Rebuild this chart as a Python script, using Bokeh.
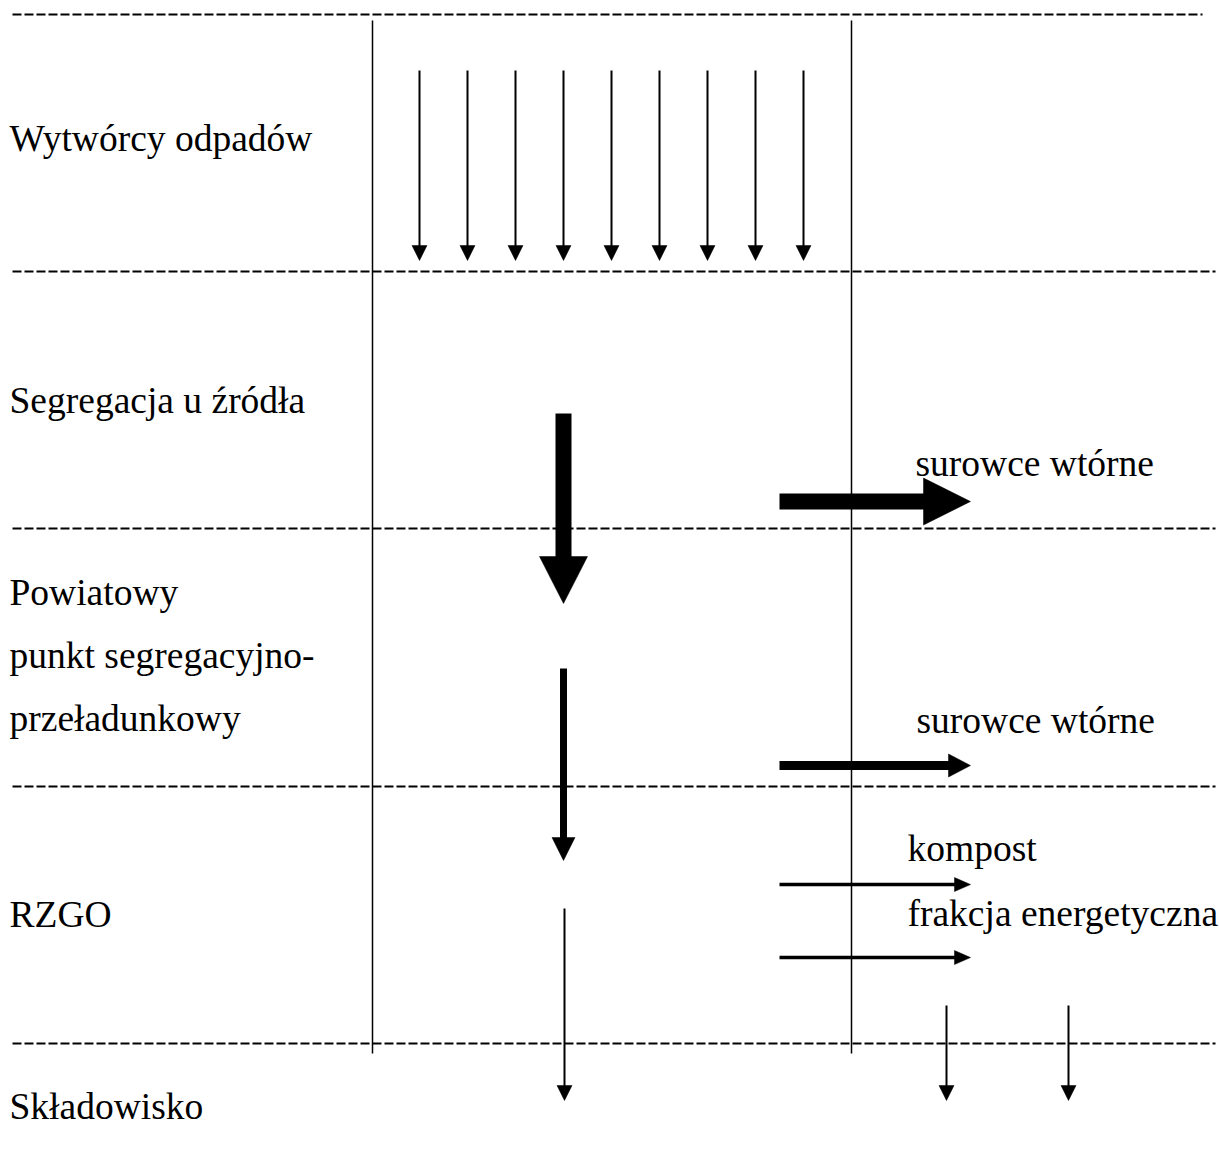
from bokeh.plotting import figure
from bokeh.models import Range1d
from bokeh.core.properties import value
from bokeh.embed import file_html
from bokeh.resources import INLINE

# ---- diagram data (page pixel coordinates, y grows downward) ----
# stage labels on the left
stage_labels = ["Wytwórcy odpadów", "Segregacja u źródła", "Powiatowy",
                "punkt segregacyjno-", "przeładunkowy", "RZGO", "Składowisko"]
stage_x = [9, 9, 9, 9, 9, 9, 9]
stage_baseline = [138, 400, 592, 655, 718, 914, 1106]

# product labels on the right
product_labels = ["surowce wtórne", "surowce wtórne", "kompost", "frakcja energetyczna"]
product_x = [915, 916, 907, 907]
product_baseline = [463, 720, 848, 913]

# dashed stage separators
sep_y = [14, 271, 528, 786, 1043]
sep_x0 = [12, 12, 12, 12, 12]
sep_x1 = [1202, 1215, 1215, 1215, 1215]

# vertical column dividers
col_x = [372, 851]
col_y0 = [20, 20]
col_y1 = [1053, 1053]

# downward arrows: x, start y, tip y, shaft width, head length, head width
down_x = [419, 467, 515, 563, 611, 659, 707, 755, 803, 563, 563, 564, 946, 1068]
down_y0 = [70, 70, 70, 70, 70, 70, 70, 70, 70, 413, 668, 908, 1005, 1005]
down_y1 = [260, 260, 260, 260, 260, 260, 260, 260, 260, 603, 860, 1100, 1100, 1100]
down_w = [2, 2, 2, 2, 2, 2, 2, 2, 2, 16, 7, 2, 2, 2]
down_hl = [15, 15, 15, 15, 15, 15, 15, 15, 15, 47, 23, 15, 15, 15]
down_hw = [15, 15, 15, 15, 15, 15, 15, 15, 15, 48, 23, 15, 15, 15]

# rightward arrows: y, start x, tip x, shaft width, head length, head width
right_y = [501, 765, 884, 957]
right_x0 = [779, 779, 779, 779]
right_x1 = [970, 970, 970, 970]
right_w = [16, 9, 3.5, 3.5]
right_hl = [47, 22, 16, 16]
right_hw = [47, 23, 14, 14]

# ---- figure ----
p = figure(width=1219, height=1172, x_range=Range1d(0, 1219), y_range=Range1d(1172, 0),
           output_backend="svg", toolbar_location=None,
           x_axis_location=None, y_axis_location=None, min_border=0)
p.grid.visible = False
p.outline_line_color = None
p.background_fill_color = "white"
p.border_fill_color = "white"

# separators
p.segment(x0=sep_x0, y0=sep_y, x1=sep_x1, y1=sep_y, line_color="black",
          line_width=2, line_dash="9 3", line_cap="butt")

# column dividers
p.segment(x0=col_x, y0=col_y0, x1=col_x, y1=col_y1, line_color="black", line_width=1.5)

# down arrows
p.segment(x0=down_x, y0=down_y0, x1=down_x,
          y1=[t - h + 1 for t, h in zip(down_y1, down_hl)],
          line_color="black", line_width=down_w, line_cap="butt")
p.patches(xs=[[x - w / 2, x + w / 2, x] for x, w in zip(down_x, down_hw)],
          ys=[[t - h, t - h, t] for t, h in zip(down_y1, down_hl)],
          fill_color="black", line_color="black", line_width=0.5)

# right arrows
p.segment(x0=right_x0, y0=right_y,
          x1=[t - h + 1 for t, h in zip(right_x1, right_hl)], y1=right_y,
          line_color="black", line_width=right_w, line_cap="butt")
p.patches(xs=[[t - h, t - h, t] for t, h in zip(right_x1, right_hl)],
          ys=[[y - w / 2, y + w / 2, y] for y, w in zip(right_y, right_hw)],
          fill_color="black", line_color="black", line_width=0.5)

# texts
p.text(x=stage_x, y=stage_baseline, text=stage_labels, text_font=value("Liberation Serif"),
       text_font_size="37.5px", text_baseline="alphabetic", text_align="left", text_color="black")
p.text(x=product_x, y=product_baseline, text=product_labels, text_font=value("Liberation Serif"),
       text_font_size="37.5px", text_baseline="alphabetic", text_align="left", text_color="black")

open("out.html", "w").write(file_html(p, INLINE))
